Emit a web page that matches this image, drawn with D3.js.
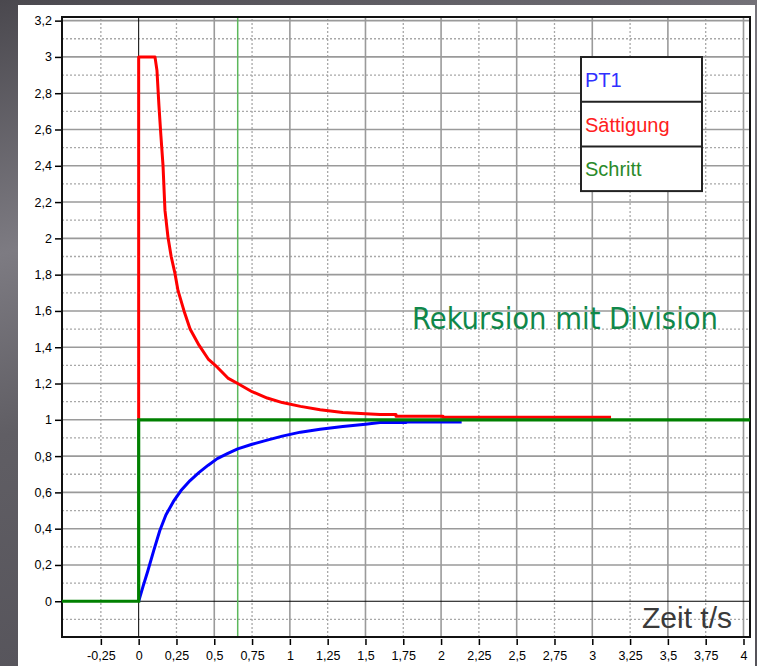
<!DOCTYPE html>
<html><head><meta charset="utf-8">
<script src="https://cdn.jsdelivr.net/npm/d3@7/dist/d3.min.js"></script>
<style>html,body{margin:0;padding:0;background:#555;}svg{display:block;}</style>
</head><body>
<script>
// ---- data ----
const xTickValues = [-0.25,0,0.25,0.5,0.75,1,1.25,1.5,1.75,2,2.25,2.5,2.75,3,3.25,3.5,3.75,4];
const xTickLabels = ["-0,25","0","0,25","0,5","0,75","1","1,25","1,5","1,75","2","2,25","2,5","2,75","3","3,25","3,5","3,75","4"];
const yTickValues = [0,0.2,0.4,0.6,0.8,1,1.2,1.4,1.6,1.8,2,2.2,2.4,2.6,2.8,3,3.2];
const yTickLabels = ["0","0,2","0,4","0,6","0,8","1","1,2","1,4","1,6","1,8","2","2,2","2,4","2,6","2,8","3","3,2"];

const seriesNames = ["PT1","Sättigung","Schritt"];
const seriesColors = ["#0000ff","#ff0000","#008000"];
const legendTextColors = ["#3030ff","#ff2020","#2a8a2a"];

// PT1 (blue)
const pt1T = [0,0.03,0.06,0.1,0.14,0.18,0.23,0.28,0.34,0.4,0.46,0.52,0.59,0.655,0.75,0.85,0.95,1.07,1.2,1.35,1.5,1.596,1.768,1.768,2.136];
const pt1V = [0,0.085,0.165,0.28,0.39,0.475,0.55,0.61,0.665,0.71,0.75,0.786,0.815,0.84,0.865,0.888,0.91,0.932,0.948,0.963,0.976,0.985,0.985,0.988,0.988];
// Sättigung (red)
const satT = [0,0,0.108,0.121,0.134,0.147,0.161,0.174,0.194,0.215,0.24,0.26,0.3,0.34,0.4,0.46,0.52,0.59,0.655,0.75,0.85,0.95,1.07,1.2,1.35,1.5,1.596,1.702,1.702,2.013,2.013,3.124];
const satV = [1,3,3,2.926,2.733,2.567,2.402,2.154,2.006,1.9,1.807,1.713,1.6,1.5,1.41,1.335,1.29,1.23,1.2,1.155,1.12,1.095,1.074,1.055,1.04,1.033,1.029,1.029,1.019,1.019,1.014,1.014];
// Schritt (green)
const stepT = [-0.507,0,0,4.043];
const stepV = [0,0,1,1];
// marker line
const markerT = 0.655;

const W = 757, H = 666;
const svg = d3.select("body").append("svg").attr("width",W).attr("height",H);

// background
const defs = svg.append("defs");
const g1 = defs.append("linearGradient").attr("id","bg").attr("x1","0").attr("y1","0").attr("x2","0.3").attr("y2","1");
g1.append("stop").attr("offset","0").attr("stop-color","#4a484e");
g1.append("stop").attr("offset","0.35").attr("stop-color","#7d7b82");
g1.append("stop").attr("offset","0.6").attr("stop-color","#605e64");
g1.append("stop").attr("offset","1").attr("stop-color","#55535a");
svg.append("rect").attr("width",W).attr("height",H).attr("fill","url(#bg)");
svg.append("rect").attr("x",18).attr("y",5).attr("width",737).attr("height",H-5).attr("fill","#ffffff");

const x = d3.scaleLinear().domain([-0.507,4.043]).range([62,750]);
const y = d3.scaleLinear().domain([-0.197,3.22]).range([637,17]);

// grid
const grid = svg.append("g");
const yMinor = d3.range(-1,32,2).map(d=>d/10);
const yMajor = d3.range(1,17).map(d=>d/5);
const xMinor = d3.range(-1,16,2).map(d=>d/4);
const xMajor = d3.range(1,9).map(d=>d/2);
grid.selectAll(".ymi").data(yMinor).join("line")
  .attr("x1",x.range()[0]).attr("x2",x.range()[1]).attr("y1",d=>y(d)).attr("y2",d=>y(d))
  .attr("stroke","#a8a8a8").attr("stroke-width",1.3).attr("stroke-dasharray","2,2");
grid.selectAll(".xmi").data(xMinor).join("line")
  .attr("y1",y.range()[0]).attr("y2",y.range()[1]).attr("x1",d=>x(d)).attr("x2",d=>x(d))
  .attr("stroke","#a8a8a8").attr("stroke-width",1.3).attr("stroke-dasharray","2,2");
grid.selectAll(".yma").data(yMajor).join("line")
  .attr("x1",x.range()[0]).attr("x2",x.range()[1]).attr("y1",d=>y(d)).attr("y2",d=>y(d))
  .attr("stroke","#9a9a9a").attr("stroke-width",1.6);
grid.selectAll(".xma").data(xMajor).join("line")
  .attr("y1",y.range()[0]).attr("y2",y.range()[1]).attr("x1",d=>x(d)).attr("x2",d=>x(d))
  .attr("stroke","#9a9a9a").attr("stroke-width",1.6);

// zero axes
svg.append("line").attr("x1",x(0)).attr("x2",x(0)).attr("y1",y.range()[0]).attr("y2",y.range()[1]).attr("stroke","#000").attr("stroke-width",1);
svg.append("line").attr("x1",x.range()[0]).attr("x2",x.range()[1]).attr("y1",y(0)).attr("y2",y(0)).attr("stroke","#000").attr("stroke-width",1);

// marker line
svg.append("line").attr("x1",x(markerT)).attr("x2",x(markerT)).attr("y1",y.range()[0]).attr("y2",y.range()[1])
  .attr("stroke","#5cb85c").attr("stroke-width",1.5);

// frame
svg.append("rect").attr("x",62).attr("y",17).attr("width",688).attr("height",620)
  .attr("fill","none").attr("stroke","#111").attr("stroke-width",2);

// axes ticks + labels
const yAxis = d3.axisLeft(y).tickValues(yTickValues).tickSize(6).tickPadding(3)
  .tickFormat((d,i)=>yTickLabels[i]);
const ya = svg.append("g").attr("transform","translate(61,0)").call(yAxis);
ya.select(".domain").remove();
ya.selectAll("line").attr("stroke","#000").attr("stroke-width",1.5);
ya.selectAll("text").attr("font-family","Liberation Sans, Arial, sans-serif").attr("font-size",12.5).attr("fill","#000");

const xAxis = d3.axisBottom(x).tickValues(xTickValues).tickSize(6).tickPadding(6)
  .tickFormat((d,i)=>xTickLabels[i]);
const xa = svg.append("g").attr("transform","translate(0,639)").call(xAxis);
xa.select(".domain").remove();
xa.selectAll("line").attr("stroke","#000").attr("stroke-width",1.5);
xa.selectAll("text").attr("font-family","Liberation Sans, Arial, sans-serif").attr("font-size",12.5).attr("fill","#000");

// series
const line = d3.line().x(d=>x(d[0])).y(d=>y(d[1]));
const sat = satT.map((t,i)=>[t,satV[i]]);
const pt1 = pt1T.map((t,i)=>[t,pt1V[i]]);
const step = stepT.map((t,i)=>[t,stepV[i]]);
svg.append("path").attr("d",line(sat)).attr("fill","none").attr("stroke",seriesColors[1]).attr("stroke-width",3).attr("stroke-linejoin","round");
svg.append("path").attr("d",line(pt1)).attr("fill","none").attr("stroke",seriesColors[0]).attr("stroke-width",3).attr("stroke-linejoin","round");
svg.append("path").attr("d",line(step)).attr("fill","none").attr("stroke",seriesColors[2]).attr("stroke-width",3.2);

// legend
const lg = svg.append("g");
const lx = 581, ly = 57, lw = 121, rh = 44.7;
lg.append("rect").attr("x",lx).attr("y",ly).attr("width",lw).attr("height",rh*3).attr("fill","#fff").attr("stroke","#222").attr("stroke-width",2);
seriesNames.forEach((n,i)=>{
  if(i>0) lg.append("line").attr("x1",lx).attr("x2",lx+lw).attr("y1",ly+rh*i).attr("y2",ly+rh*i).attr("stroke","#222").attr("stroke-width",2);
  lg.append("text").attr("x",lx+4).attr("y",ly+rh*i+30).text(n)
    .attr("font-family","Liberation Sans, Arial, sans-serif").attr("font-size",20).attr("fill",legendTextColors[i]);
});

// annotations
svg.append("text").attr("x",412).attr("y",329).text("Rekursion mit Division")
  .attr("font-family","'Comic Sans MS','DejaVu Sans Condensed','DejaVu Sans',sans-serif").attr("font-size",31)
  .attr("textLength",306).attr("lengthAdjust","spacingAndGlyphs").attr("fill","#10874a");
svg.append("text").attr("x",732).attr("y",628).attr("text-anchor","end").text("Zeit t/s")
  .attr("font-family","Liberation Sans, Arial, sans-serif").attr("font-size",30).attr("fill","#3a3a3a");
</script>
</body></html>
